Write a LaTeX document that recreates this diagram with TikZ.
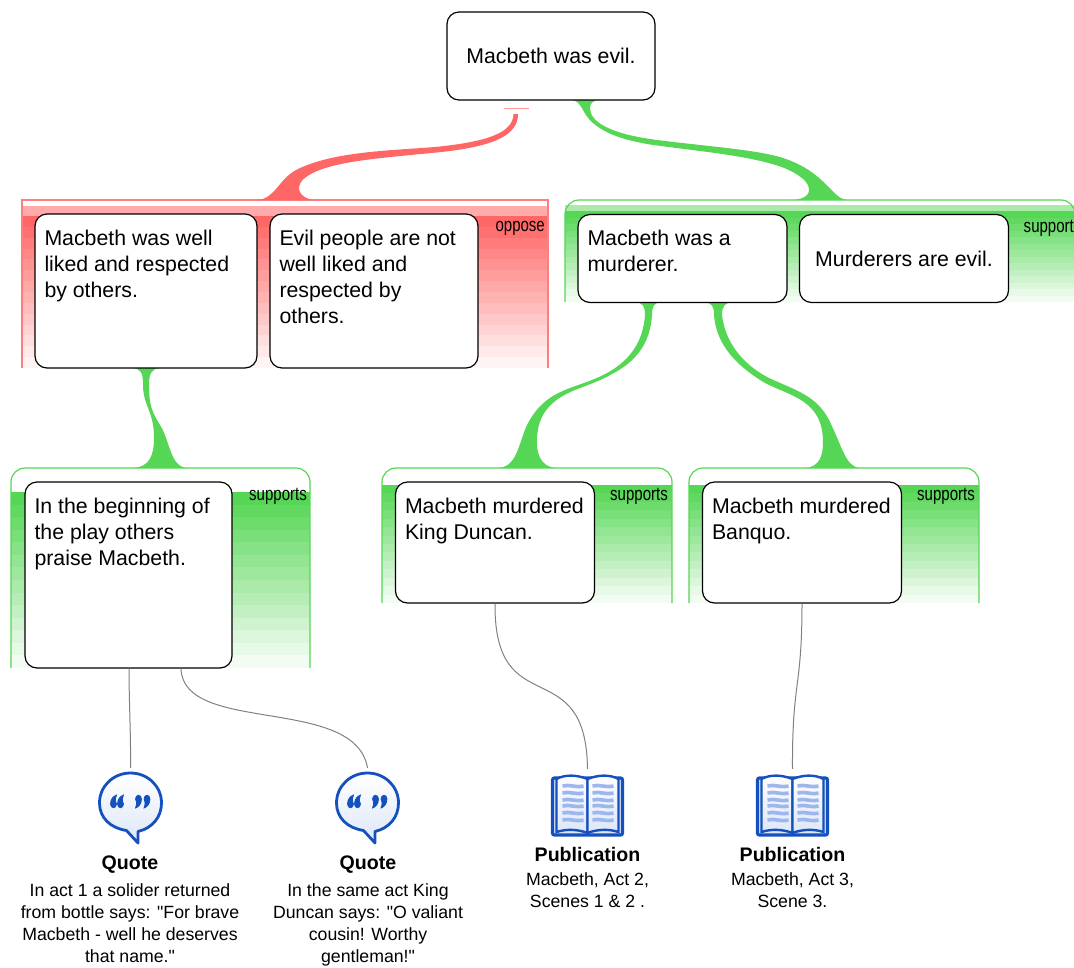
\documentclass[tikz,border=0pt]{standalone}
\usepackage{fontspec}
\setmainfont{Liberation Sans}
\newfontfamily\detailfont{Liberation Sans}
\usepackage{tikz}
\usetikzlibrary{shapes.geometric}
\usetikzlibrary{positioning}

\definecolor{opposered}{RGB}{255,102,102}
\definecolor{supportgreen}{RGB}{85,214,85}
\definecolor{iconblue}{RGB}{20,80,190}
\definecolor{iconpale}{RGB}{220,231,247}
\definecolor{iconline}{RGB}{157,182,238}

\tikzstyle{argbox} = [rectangle, rounded corners=12pt, draw=black, line width=1.2pt, fill=white, inner xsep=9.5pt, inner ysep=16pt, font=\fontsize{21.3}{26}\selectfont]
\tikzstyle{tag} = [inner sep=0pt, font=\fontsize{19}{20}\selectfont]
\tikzstyle{title} = [inner sep=0pt, font=\bfseries\fontsize{19.6}{22}\selectfont]
\tikzstyle{detail} = [inner sep=0pt, align=center, font=\detailfont\fontsize{17.7}{22}\selectfont]
\tikzstyle{link} = [draw=gray, line width=1pt]
\tikzstyle{iconbox} = [inner sep=0pt, minimum width=76pt, minimum height=76pt]

% top aligned text of an argument box: width, height, lines
\newcommand{\argtext}[3]{\parbox[c][#2pt][t]{#1pt}{\raggedright #3}}

% fading bands of a panel: colour, x0, x1, y0, y1
\newcommand{\panelbands}[5]{
	\foreach \i in {0,...,13} {
		\pgfmathsetmacro{\strength}{100-\i*100/14}
		\pgfmathsetmacro{\ya}{#4+\i*(#5-#4)/14}
		\pgfmathsetmacro{\yb}{#4+(\i+1)*(#5-#4)/14}
		\fill[#1!\strength!white] (#2,\ya) rectangle (#3,\yb);
	}
}

% one quotation mark
\newcommand{\qmark}{(0,9) .. controls (0,4) and (3,1) .. (6,0) .. controls (4.5,3) and (4.5,5) .. (6,9) .. controls (6,14) and (0,14) .. (0,9) -- cycle}

% speech bubble around (x,y)
\newcommand{\quoteicon}[2]{
	\begin{scope}[shift={(#1,#2)}]
		\draw[draw=iconblue, line width=2.8pt, line join=round, top color=white, bottom color=iconpale]
			(-4,27.5) .. controls (-20,25) and (-31,15) .. (-31,0) .. controls (-31,-17) and (-17,-30) .. (0,-30)
			.. controls (17,-30) and (31,-17) .. (31,0) .. controls (31,14) and (22,25) .. (7.5,28.5) -- (7.5,40) -- cycle;
		\foreach \x in {-20,-13} {
			\filldraw[iconblue,line width=.7pt,shift={(\x,-8)}] \qmark;
		}
		\foreach \x in {11,19.5} {
			\filldraw[iconblue,line width=.7pt,shift={(\x,5)},rotate=180] \qmark;
		}
	\end{scope}
}

% open book around (x,y)
\newcommand{\bookicon}[2]{
	\begin{scope}[shift={(#1,#2)}]
		\draw[draw=iconblue, line width=3.2pt, fill=iconpale, rounded corners=2pt] (-35,-27) rectangle (35,30);
		\draw[draw=iconblue, line width=2.4pt, top color=white, bottom color=iconpale]
			(-31,-26) .. controls (-22,-31) and (-10,-30) .. (0,-26) -- (0,28) .. controls (-10,24) and (-22,24) .. (-31,27) -- cycle;
		\draw[draw=iconblue, line width=2.4pt, top color=white, bottom color=iconpale]
			(31,-26) .. controls (22,-31) and (10,-30) .. (0,-26) -- (0,28) .. controls (10,24) and (22,24) .. (31,27) -- cycle;
		\foreach \y in {-19,-12,-5,1,8,15} {
			\draw[iconline, line width=3.6pt] (-25,\y) .. controls (-18,\y-2) and (-12,\y+2) .. (-4,\y);
			\draw[iconline, line width=3.6pt] (5,\y) .. controls (12,\y-2) and (18,\y+2) .. (26,\y);
		}
	\end{scope}
}

\begin{document}
\begin{tikzpicture}[x=1pt,y=-1pt]
	\clip (0,0) rectangle (1074,967);

	% Oppose panel
	\panelbands{opposered}{22}{548}{216}{368}
	\fill[opposered!55!white] (22,206) rectangle (548,216);
	\draw[opposered!85!white, line width=1.1pt] (22,368) -- (22,200) -- (548,200) -- (548,368);
	\node[tag,anchor=east] (opposetag) at (545,228) {\scalebox{.79}[1]{oppose}};

	% Support panel, top right
	\panelbands{supportgreen}{565}{1075}{211}{302}
	\fill[supportgreen!50!white] (565,205) rectangle (1075,211);
	\draw[supportgreen, line width=1.2pt, rounded corners=14pt] (565,302) -- (565,200) -- (1075,200) -- (1075,302);
	\node[tag,anchor=east] (supporttag) at (1074,228) {\scalebox{.79}[1]{support}};

	% Support panels, lower row
	\panelbands{supportgreen}{11}{310}{492}{668}
	\draw[supportgreen, line width=1.2pt, rounded corners=14pt] (11,668) -- (11,468) -- (310,468) -- (310,668);
	\node[tag,anchor=east] (praisetag) at (307,496) {\scalebox{.79}[1]{supports}};

	\panelbands{supportgreen}{382}{672}{485}{603}
	\draw[supportgreen, line width=1.2pt, rounded corners=14pt] (382,603) -- (382,468) -- (672,468) -- (672,603);
	\node[tag,anchor=east] (duncantag) at (668,496) {\scalebox{.79}[1]{supports}};

	\panelbands{supportgreen}{689}{979}{485}{603}
	\draw[supportgreen, line width=1.2pt, rounded corners=14pt] (689,603) -- (689,468) -- (979,468) -- (979,603);
	\node[tag,anchor=east] (banquotag) at (975,496) {\scalebox{.79}[1]{supports}};

	% Ribbons
	\node[fill=opposered!70!white, inner sep=0pt, minimum width=25pt, minimum height=1.5pt] (opposebar) at (516,108.5) {};
	\fill[opposered] (513.5,114) .. controls (513,132) and (490,141) .. (440,146.5) .. controls (400,150.5) and (335,150) .. (296,170) .. controls (278,180) and (275,199) .. (257,200)
		-- (314,200) .. controls (300,199) and (290,185) .. (311,174) .. controls (335,160) and (395,157) .. (446,151.5) .. controls (495,145.5) and (518,135) .. (518,114) -- cycle;
	\fill[supportgreen] (572,100) .. controls (582,101) and (582,114) .. (593,123) .. controls (608,136) and (630,141) .. (650,144.5) .. controls (700,151.5) and (750,155.5) .. (783,167.5) .. controls (800,174.5) and (809,182) .. (809,190) .. controls (809,197) and (800,200) .. (790,200)
		-- (847,200) .. controls (832,199) and (826,172) .. (783,158) .. controls (755,149) and (700,146) .. (650,139) .. controls (610,133) and (590,122) .. (590,108) .. controls (590,103) and (593,101) .. (598,100) -- cycle;
	\fill[supportgreen] (132,368) .. controls (141,369) and (143,372) .. (143,385) .. controls (143,405) and (154,412) .. (154,437) .. controls (154,455) and (150,467) .. (133,468)
		-- (187,468) .. controls (170,467) and (170,440) .. (160,425) .. controls (152,412) and (149,405) .. (149,385) .. controls (149,374) and (151,369) .. (160,368) -- cycle;
	\fill[supportgreen] (635,302) .. controls (643,303) and (645,306) .. (645,315) .. controls (643,342) and (630,363) .. (599,377) .. controls (570,390) and (545,390) .. (527,425) .. controls (518,445) and (517,467) .. (498,468)
		-- (556,468) .. controls (540,467) and (536,452) .. (537,438) .. controls (538,415) and (550,400) .. (575,390) .. controls (590,384) and (600,381) .. (612,374) .. controls (635,362) and (650,345) .. (652,315) .. controls (652,306) and (654,303) .. (661,302) -- cycle;
	\fill[supportgreen] (704,302) .. controls (712,303) and (714,306) .. (714,315) .. controls (716,340) and (730,362) .. (765,383) .. controls (790,396) and (823,400) .. (823,442) .. controls (823,455) and (820,467) .. (805,468)
		-- (860,468) .. controls (845,467) and (842,445) .. (828,418) .. controls (815,395) and (795,390) .. (769,378) .. controls (740,363) and (725,340) .. (722,315) .. controls (722,306) and (725,303) .. (732,302) -- cycle;

	% Argument boxes
	\node[argbox,minimum width=208pt,minimum height=88pt] (evil) at (551,56) {Macbeth was evil.};
	\node[argbox,minimum width=222pt,minimum height=154pt] (liked) at (146,291) {\argtext{203}{122}{Macbeth was well\\liked and respected\\by others.}};
	\node[argbox,minimum width=208pt,minimum height=154pt] (notliked) at (374,291) {\argtext{189}{122}{Evil people are not\\well liked and\\respected by\\others.}};
	\node[argbox,minimum width=209pt,minimum height=88pt] (murderer) at (682.5,258.5) {\argtext{190}{56}{Macbeth was a\\murderer.}};
	\node[argbox,minimum width=209pt,minimum height=88pt] (murderers) at (904,258.5) {Murderers are evil.};
	\node[argbox,minimum width=207pt,minimum height=186pt] (praise) at (128.5,575) {\argtext{188}{154}{In the beginning of\\the play others\\praise Macbeth.}};
	\node[argbox,minimum width=198pt,minimum height=121pt] (duncan) at (495,542.5) {\argtext{180}{89}{Macbeth murdered\\King Duncan.}};
	\node[argbox,minimum width=198pt,minimum height=121pt] (banquo) at (802,542.5) {\argtext{180}{89}{Macbeth murdered\\Banquo.}};

	% Evidence icons
	\node[iconbox] (quoteone) at (130.5,806) {};
	\node[iconbox] (quotetwo) at (367.5,806) {};
	\node[iconbox] (bookone) at (587.5,807) {};
	\node[iconbox] (booktwo) at (792.5,807) {};
	\quoteicon{130.5}{803}
	\quoteicon{367.5}{803}
	\bookicon{587.5}{805}
	\bookicon{792.5}{805}

	% Links to the evidence
	\draw[link] (praise.south -| 129,0) .. controls (129,700) and (131,740) .. (quoteone.north);
	\draw[link] (praise.south -| 181,0) .. controls (183,735) and (355,695) .. (quotetwo.north);
	\draw[link] (duncan.south) .. controls (494,725) and (586,650) .. (bookone.north);
	\draw[link] (banquo.south) .. controls (802,690) and (792,680) .. (booktwo.north);

	% Evidence text
	\node[title] (quoteonetitle) at (130,864.5) {Quote};
	\node[detail,below=10pt of quoteonetitle] (quoteonetext) {In act 1 a solider returned\\from bottle says: "For brave\\Macbeth - well he deserves\\that name."};
	\node[title] (quotetwotitle) at (368,864.5) {Quote};
	\node[detail,below=10pt of quotetwotitle] (quotetwotext) {In the same act King\\Duncan says: "O valiant\\cousin! Worthy\\gentleman!"};
	\node[title] (bookonetitle) at (587.5,854) {Publication};
	\node[detail,below=11pt of bookonetitle] (bookonetext) {Macbeth, Act 2,\\Scenes 1 \& 2 .};
	\node[title] (booktwotitle) at (792.5,854) {Publication};
	\node[detail,below=11pt of booktwotitle] (booktwotext) {Macbeth, Act 3,\\Scene 3.};
\end{tikzpicture}
\end{document}
